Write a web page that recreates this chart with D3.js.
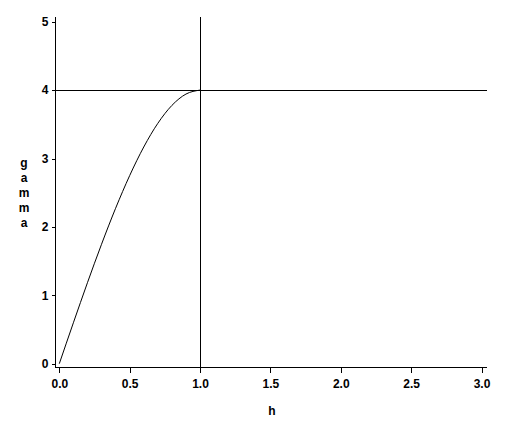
<!DOCTYPE html>
<html><head><meta charset="utf-8">
<script src="https://cdn.jsdelivr.net/npm/d3@7"></script>
<style>body{margin:0;background:#fff}svg{display:block}text{font-family:"Liberation Sans",Arial,sans-serif;font-size:12px;font-weight:bold;fill:#000}line{shape-rendering:crispEdges}</style>
</head><body>
<script>
const hValues = [0, 0.1, 0.2, 0.3, 0.4, 0.5, 0.6, 0.7, 0.8, 0.9, 1.0];
const gammaValues = [0, 0.598, 1.184, 1.746, 2.272, 2.75, 3.168, 3.514, 3.776, 3.942, 4.0];
const xTicks = [0, 0.5, 1.0, 1.5, 2.0, 2.5, 3.0];
const yTicks = [0, 1, 2, 3, 4, 5];
const sill = 4, range = 1;
const xLabel = "h", yLabel = "gamma";

const W = 512, H = 427;
const svg = d3.select("body").append("svg").attr("width", W).attr("height", H);
const x = d3.scaleLinear().domain([0, 3]).range([59.3, 481.5]);
const y = d3.scaleLinear().domain([0, 5]).range([363.7, 21.7]);
const axL = 55.5, axB = 367.5, axR = 487, axT = 17;

// axes lines
svg.append("line").attr("x1", axL).attr("x2", axL).attr("y1", axT).attr("y2", axB).attr("stroke", "#000");
svg.append("line").attr("x1", axL).attr("x2", axR).attr("y1", axB).attr("y2", axB).attr("stroke", "#000");

const yAxis = d3.axisLeft(y).tickValues(yTicks).tickFormat(d3.format("d")).tickSize(4).tickPadding(3);
const gy = svg.append("g").attr("transform", `translate(${axL},0)`).call(yAxis);
gy.select(".domain").remove();
gy.selectAll("text").attr("font-size", 12).attr("font-family", null);

const xAxis = d3.axisBottom(x).tickValues(xTicks).tickFormat(d3.format(".1f")).tickSize(5).tickPadding(7);
const gx = svg.append("g").attr("transform", `translate(0,${axB})`).call(xAxis);
gx.select(".domain").remove();
gx.selectAll("text").attr("font-size", 12).attr("font-family", null);

// reference lines
svg.append("line").attr("x1", axL).attr("x2", axR).attr("y1", y(sill)).attr("y2", y(sill)).attr("stroke", "#000");
svg.append("line").attr("x1", x(range)).attr("x2", x(range)).attr("y1", axT).attr("y2", axB).attr("stroke", "#000");

// curve
const line = d3.line().x((d, i) => x(hValues[i])).y(d => y(d)).curve(d3.curveMonotoneX);
svg.append("path").attr("d", line(gammaValues)).attr("fill", "none").attr("stroke", "#000").attr("stroke-width", 1);

// labels
svg.append("text").attr("x", 272).attr("y", 415).attr("text-anchor", "middle").text(xLabel);
const yl = svg.append("text").attr("text-anchor", "middle");
yLabel.split("").forEach((c, i) => {
  yl.append("tspan").attr("x", 24).attr("y", 167 + i * 15).text(c);
});
</script>
</body></html>
